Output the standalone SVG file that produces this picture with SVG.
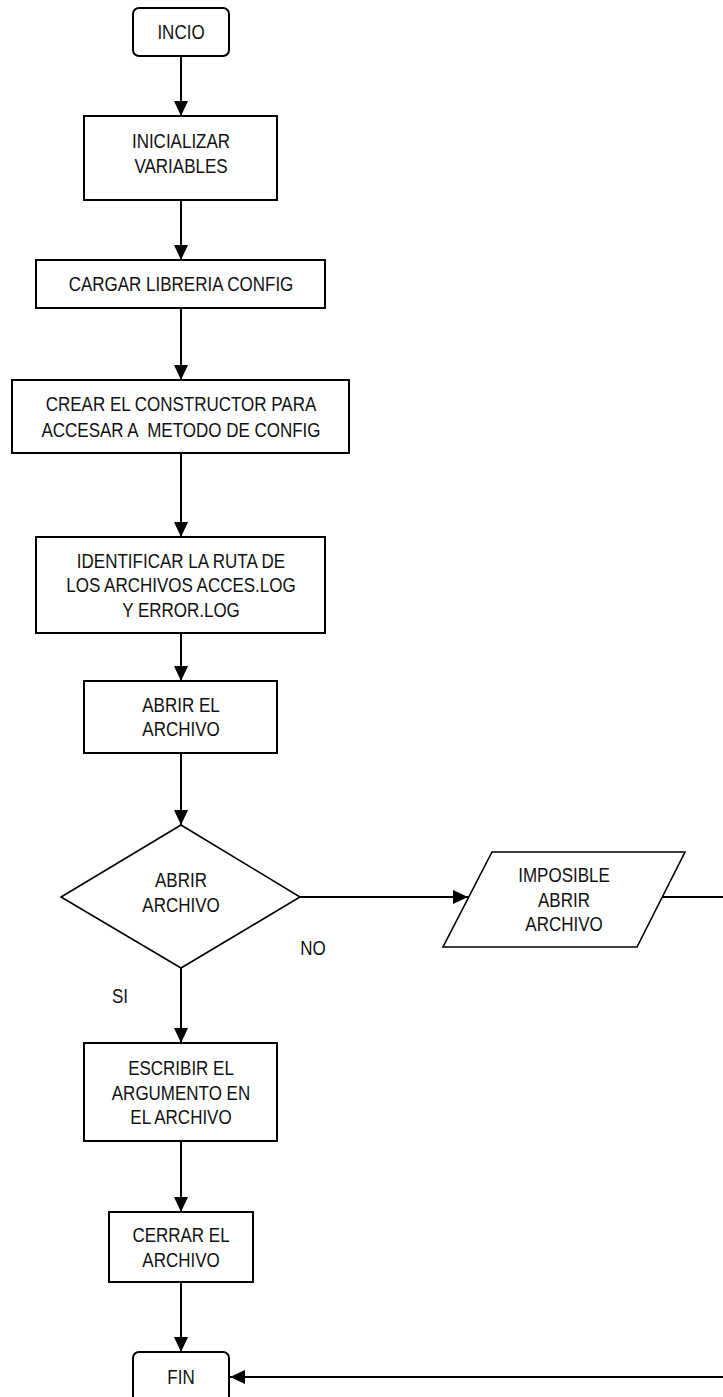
<svg xmlns="http://www.w3.org/2000/svg" width="723" height="1397" viewBox="0 0 723 1397">
  <defs>
    <marker id="arrow" markerUnits="userSpaceOnUse" markerWidth="16" markerHeight="14" refX="15" refY="7" orient="auto">
      <path d="M0,0 L15,7 L0,14 Z" fill="#000"/>
    </marker>
    <style>
      .box { fill: #fff; stroke: #000; stroke-width: 2; }
      .shape { fill: #fff; stroke: #000; stroke-width: 1.6; }
      .edge { fill: none; stroke: #000; stroke-width: 2; }
      .lbl { font-family: "Liberation Sans", Arial, sans-serif; font-size: 20px; fill: #111; text-anchor: middle; }
    </style>
  </defs>
  <rect width="723" height="1397" fill="#fff"/>

  <!-- connectors -->
  <g id="connectors">
    <line class="edge" x1="181" y1="56" x2="181" y2="116" marker-end="url(#arrow)"/>
    <line class="edge" x1="181" y1="200" x2="181" y2="260" marker-end="url(#arrow)"/>
    <line class="edge" x1="181" y1="308" x2="181" y2="380" marker-end="url(#arrow)"/>
    <line class="edge" x1="181" y1="453" x2="181" y2="537" marker-end="url(#arrow)"/>
    <line class="edge" x1="181" y1="633" x2="181" y2="681" marker-end="url(#arrow)"/>
    <line class="edge" x1="181" y1="753" x2="181" y2="825" marker-end="url(#arrow)"/>
    <line class="edge" x1="300" y1="897" x2="468" y2="897" marker-end="url(#arrow)"/>
    <line class="edge" x1="181" y1="968" x2="181" y2="1043" marker-end="url(#arrow)"/>
    <line class="edge" x1="181" y1="1141" x2="181" y2="1212" marker-end="url(#arrow)"/>
    <line class="edge" x1="181" y1="1282" x2="181" y2="1352" marker-end="url(#arrow)"/>
    <polyline class="edge" points="662,897 726,897 726,1377 230,1377" marker-end="url(#arrow)"/>
  </g>

  <g id="n-inicio">
    <rect class="box" x="133" y="8" width="96" height="48" rx="6"/>
    <text class="lbl" transform="translate(181,0) scale(0.85,1)"><tspan x="0" y="39.5">INCIO</tspan></text>
  </g>

  <g id="n-inicializar">
    <rect class="box" x="84" y="116" width="193" height="84"/>
    <text class="lbl" transform="translate(181,0) scale(0.85,1)"><tspan x="0" y="148">INICIALIZAR</tspan><tspan x="0" y="173">VARIABLES</tspan></text>
  </g>

  <g id="n-cargar">
    <rect class="box" x="36" y="260" width="289" height="48"/>
    <text class="lbl" transform="translate(181,0) scale(0.85,1)"><tspan x="0" y="291.5">CARGAR LIBRERIA CONFIG</tspan></text>
  </g>

  <g id="n-crear">
    <rect class="box" x="12" y="380" width="337" height="73"/>
    <text class="lbl" xml:space="preserve" transform="translate(181,0) scale(0.85,1)"><tspan x="0" y="411.5">CREAR EL CONSTRUCTOR PARA</tspan><tspan x="0" y="437">ACCESAR A  METODO DE CONFIG</tspan></text>
  </g>

  <g id="n-identificar">
    <rect class="box" x="36" y="537" width="289" height="96"/>
    <text class="lbl" transform="translate(181,0) scale(0.85,1)"><tspan x="0" y="568">IDENTIFICAR LA RUTA DE</tspan><tspan x="0" y="592.5">LOS ARCHIVOS ACCES.LOG</tspan><tspan x="0" y="617">Y ERROR.LOG</tspan></text>
  </g>

  <g id="n-abrir">
    <rect class="box" x="84" y="681" width="193" height="72"/>
    <text class="lbl" transform="translate(181,0) scale(0.85,1)"><tspan x="0" y="712">ABRIR EL</tspan><tspan x="0" y="736.5">ARCHIVO</tspan></text>
  </g>

  <g id="n-decision">
    <polygon class="shape" points="181,825 300,897 181,968 61,897"/>
    <text class="lbl" transform="translate(181,0) scale(0.85,1)"><tspan x="0" y="887">ABRIR</tspan><tspan x="0" y="912">ARCHIVO</tspan></text>
  </g>

  <g id="n-imposible">
    <polygon class="shape" points="492,852 685,852 637,947 443,947"/>
    <text class="lbl" transform="translate(564,0) scale(0.85,1)"><tspan x="0" y="882">IMPOSIBLE</tspan><tspan x="0" y="907">ABRIR</tspan><tspan x="0" y="931">ARCHIVO</tspan></text>
  </g>

  <g id="edge-labels">
    <text class="lbl" transform="translate(313,0) scale(0.85,1)"><tspan x="0" y="955">NO</tspan></text>
    <text class="lbl" transform="translate(120,0) scale(0.85,1)"><tspan x="0" y="1003">SI</tspan></text>
  </g>

  <g id="n-escribir">
    <rect class="box" x="84" y="1043" width="193" height="98"/>
    <text class="lbl" transform="translate(181,0) scale(0.85,1)"><tspan x="0" y="1075">ESCRIBIR EL</tspan><tspan x="0" y="1100">ARGUMENTO EN</tspan><tspan x="0" y="1124">EL ARCHIVO</tspan></text>
  </g>

  <g id="n-cerrar">
    <rect class="box" x="109" y="1212" width="144" height="70"/>
    <text class="lbl" transform="translate(181,0) scale(0.85,1)"><tspan x="0" y="1242">CERRAR EL</tspan><tspan x="0" y="1267">ARCHIVO</tspan></text>
  </g>

  <g id="n-fin">
    <rect class="box" x="133" y="1352" width="96" height="50" rx="6"/>
    <text class="lbl" transform="translate(181,0) scale(0.85,1)"><tspan x="0" y="1384">FIN</tspan></text>
  </g>
</svg>
